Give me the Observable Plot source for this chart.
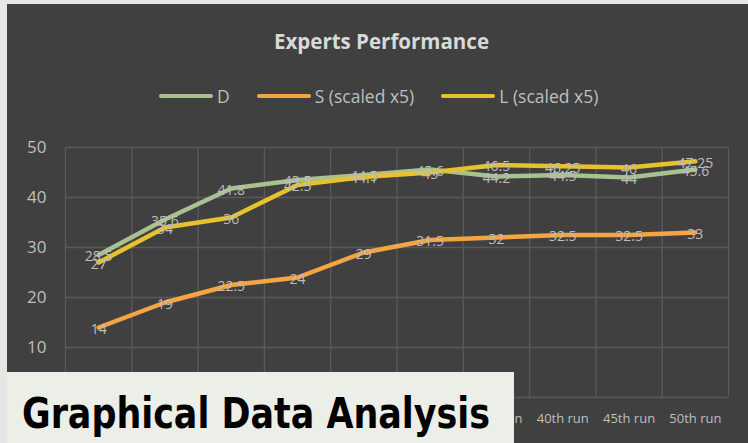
<!DOCTYPE html>
<html>
<head>
<meta charset="utf-8">
<script src="https://cdn.jsdelivr.net/npm/d3@7"></script>
<script src="https://cdn.jsdelivr.net/npm/@observablehq/plot@0.6"></script>
<style>
  html, body { margin: 0; padding: 0; background: #e6e6e6; }
  #frame { position: relative; width: 748px; height: 443px; overflow: hidden; background: #e6e6e6; }
  #panel { position: absolute; left: 7px; top: 4px; right: 0; bottom: 0; background: #404040; }
  #title { position: absolute; left: 0; width: 763px; top: 27px; text-align: center;
           font-family: "Open Sans", sans-serif; font-weight: 700; font-size: 20.5px; color: #d9d9d9; }
  #legend { position: absolute; top: 84px; left: 159px; display: flex; align-items: center;
            font-family: "Open Sans", sans-serif; font-size: 17.5px; color: #bfbfbf; white-space: nowrap; }
  .sw { display: inline-block; width: 54px; height: 4px; border-radius: 2px; margin-right: 4px; }
  .item { display: flex; align-items: center; margin-right: 27px; }
  #chart { position: absolute; left: 0; top: 0; }
  #overlay { position: absolute; left: 7px; top: 372px; }
</style>
</head>
<body>
<div id="frame">
  <div id="panel"></div>
  <div id="title">Experts Performance</div>
  <div id="legend"></div>
  <div id="chart"></div>
  <svg id="overlay" width="507" height="71">
    <rect x="0" y="0" width="507" height="71" fill="#eceee8"></rect>
    <text x="15" y="56" font-family="'Liberation Sans Narrow', 'DejaVu Sans Condensed', 'Open Sans', sans-serif"
          font-weight="700" font-size="42" fill="#000" textLength="468" lengthAdjust="spacingAndGlyphs">Graphical Data Analysis</text>
  </svg>
</div>
<script>
const runs = ["5th run", "10th run", "15th run", "20th run", "25th run", "30th run", "35th run", "40th run", "45th run", "50th run"];
const seriesNames = ["D", "S (scaled x5)", "L (scaled x5)"];
const seriesColors = ["#a9c191", "#f5a443", "#e8c22b"];
const dValues = [28.5, 35.6, 41.8, 43.5, 44.5, 45.6, 44.2, 44.5, 44, 45.6];
const sValues = [14, 19, 22.5, 24, 29, 31.5, 32, 32.5, 32.5, 33];
const lValues = [27, 34, 36, 42.5, 44.1, 45, 46.5, 46.25, 46, 47.25];
const yTicks = [0, 10, 20, 30, 40, 50];

const allValues = [dValues, sValues, lValues];
const rows = allValues.flatMap((vals, s) =>
  vals.map((v, i) => ({ series: seriesNames[s], idx: i + 0.5, run: runs[i], value: v }))
);

// legend
const legend = document.getElementById("legend");
seriesNames.forEach((name, i) => {
  const item = document.createElement("div");
  item.className = "item";
  item.innerHTML = `<span class="sw" style="background:${seriesColors[i]}"></span><span>${name}</span>`;
  legend.appendChild(item);
});

const chart = Plot.plot({
  width: 748,
  height: 443,
  marginLeft: 65,
  marginRight: 20,
  marginTop: 147,
  marginBottom: 46,
  style: { background: "transparent", color: "#bfbfbf", fontFamily: "'Open Sans', sans-serif", fontSize: "14px" },
  x: { type: "linear", domain: [0, runs.length] },
  y: { domain: [0, 50] },
  color: { domain: seriesNames, range: seriesColors },
  marks: [
    Plot.ruleY(yTicks, { stroke: "#5a5a5a", strokeWidth: 1.3 }),
    Plot.ruleX(d3.range(0, runs.length + 1), { stroke: "#5a5a5a", strokeWidth: 1.3 }),
    Plot.axisY({ ticks: yTicks, tickSize: 0, tickPadding: 19, fontSize: 17, label: null, fill: "#bfbfbf" }),
    Plot.axisX({ ticks: runs.map((d, i) => i + 0.5), tickFormat: d => runs[Math.floor(d)], tickSize: 0, tickPadding: 16, fontSize: 13, label: null, fill: "#bfbfbf" }),
    Plot.line(rows, { x: "idx", y: "value", z: "series", stroke: "series", strokeWidth: 4.5, strokeLinecap: "round", strokeLinejoin: "round" }),
    Plot.text(rows, { x: "idx", y: "value", text: d => String(d.value), fill: "#bdbdbd", fontSize: 14, dy: 2, textAnchor: "middle", lineAnchor: "middle" })
  ]
});
document.getElementById("chart").appendChild(chart);
</script>
</body>
</html>
